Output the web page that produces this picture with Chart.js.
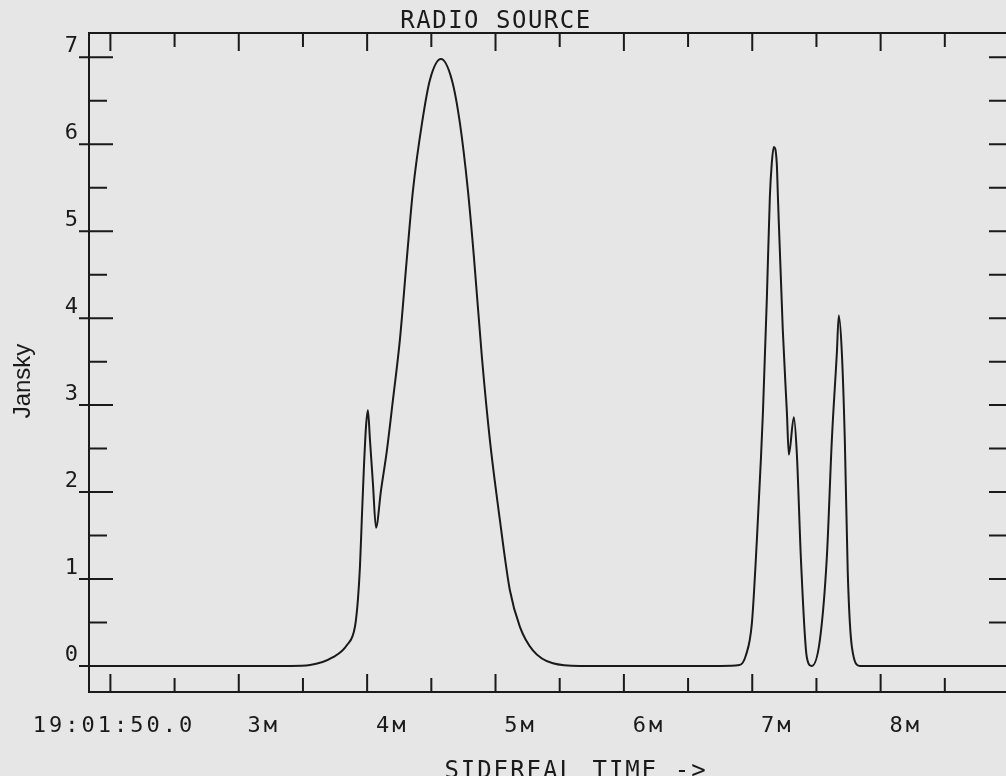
<!DOCTYPE html>
<html>
<head>
<meta charset="utf-8">
<script src="https://cdn.jsdelivr.net/npm/chart.js@4.4.1/dist/chart.umd.min.js"></script>
<style>
  html, body { margin: 0; padding: 0; background: #e6e6e6; overflow: hidden; }
  #wrap { width: 1006px; height: 776px; overflow: hidden; }
</style>
</head>
<body>
<div id="wrap"><canvas id="radioChart" width="1030" height="776"></canvas></div>
<script>
// sidereal time in minutes past 19h, flux in Jansky
const timeMin = [1.833, 3.40, 3.555, 3.734, 3.843, 3.905, 3.928, 3.944, 3.959, 3.975, 3.991, 4.006,
  4.022, 4.045, 4.069, 4.108, 4.154, 4.201, 4.255, 4.310, 4.357, 4.427, 4.489, 4.575,
  4.660, 4.723, 4.785, 4.832, 4.894, 4.956, 5.034, 5.112, 5.190, 5.291, 5.447, 5.657,
  6.750, 6.900, 6.950, 6.997, 7.036, 7.067, 7.083, 7.114, 7.137, 7.152, 7.168, 7.191,
  7.200, 7.238, 7.270, 7.285, 7.324, 7.347, 7.380, 7.425, 7.464, 7.527, 7.581, 7.620,
  7.659, 7.674, 7.698, 7.721, 7.744, 7.776, 7.838, 9.0];
const jansky = [0, 0, 0.01, 0.10, 0.24, 0.45, 0.76, 1.14, 1.71, 2.29, 2.75, 2.94,
  2.60, 2.10, 1.59, 2.02, 2.48, 3.06, 3.75, 4.70, 5.47, 6.24, 6.74, 6.98,
  6.74, 6.24, 5.47, 4.70, 3.55, 2.60, 1.68, 0.87, 0.45, 0.18, 0.03, 0,
  0, 0.01, 0.12, 0.49, 1.45, 2.37, 2.91, 4.24, 5.39, 5.78, 5.97, 5.78,
  5.39, 3.86, 2.91, 2.43, 2.86, 2.45, 1.20, 0.10, 0, 0.30, 1.25, 2.60,
  3.60, 4.03, 3.60, 2.60, 1.07, 0.22, 0, 0];

const xLabelTicks = [1.8333, 3, 4, 5, 6, 7, 8];
const xLabels = ['19:01:50.0', '3м', '4м', '5м', '6м', '7м', '8м'];
const xMarks = [2, 2.5, 3, 3.5, 4, 4.5, 5, 5.5, 6, 6.5, 7, 7.5, 8, 8.5];
const yTicks = [0, 1, 2, 3, 4, 5, 6, 7];
const yMarks = [0, 0.5, 1, 1.5, 2, 2.5, 3, 3.5, 4, 4.5, 5, 5.5, 6, 6.5, 7];

const ink = '#1a1a1a';
const mono = '"DejaVu Sans Mono", monospace';

const frame = {
    id: 'frame',
    beforeDraw(chart) { chart.ctx.letterSpacing = '3px'; },
    afterDraw(chart) {
        const { ctx, chartArea: a, scales: { x, y } } = chart;
        ctx.save();
        ctx.letterSpacing = '0px';
        ctx.strokeStyle = ink;
        ctx.lineWidth = 2;
        ctx.strokeRect(a.left, a.top, a.right - a.left, a.bottom - a.top);
        ctx.beginPath();
        xMarks.forEach(v => {
            const px = x.getPixelForValue(v);
            const len = Number.isInteger(v) ? 18 : 14;
            ctx.moveTo(px, a.bottom); ctx.lineTo(px, a.bottom - len);
            ctx.moveTo(px, a.top); ctx.lineTo(px, a.top + len);
        });
        yMarks.forEach(v => {
            const py = y.getPixelForValue(v);
            if (Number.isInteger(v)) { ctx.moveTo(a.left - 10, py); ctx.lineTo(a.left + 24, py); }
            else { ctx.moveTo(a.left, py); ctx.lineTo(a.left + 18, py); }
            ctx.moveTo(a.right, py); ctx.lineTo(a.right - 20, py);
        });
        ctx.stroke();

        ctx.fillStyle = ink;
        ctx.textAlign = 'center';
        ctx.textBaseline = 'alphabetic';
        ctx.font = '24px ' + mono;
        ctx.letterSpacing = '1.5px';
        ctx.fillText('RADIO SOURCE', a.left + 407, 28);
        ctx.letterSpacing = '2px';
        ctx.fillText('SIDEREAL TIME ->', a.left + 487, 778);

        ctx.letterSpacing = '0px';
        ctx.font = '24px "Liberation Sans", Arial, sans-serif';
        ctx.translate(30, 381);
        ctx.rotate(-Math.PI / 2);
        ctx.fillText('Jansky', 0, 0);
        ctx.restore();
    }
};

new Chart(document.getElementById('radioChart'), {
    type: 'line',
    data: {
        datasets: [{
            data: timeMin.map((t, i) => ({ x: t, y: jansky[i] })),
            borderColor: ink,
            borderWidth: 2,
            pointRadius: 0,
            cubicInterpolationMode: 'monotone',
            fill: false
        }]
    },
    options: {
        responsive: false,
        animation: false,
        layout: { padding: { top: 33, right: 21, left: 0, bottom: 0 } },
        plugins: { legend: { display: false }, tooltip: { enabled: false } },
        scales: {
            x: {
                type: 'linear', min: 1.8333, max: 9.0,
                grid: { display: false, drawTicks: false },
                border: { display: false },
                afterBuildTicks: s => { s.ticks = xLabelTicks.map(v => ({ value: v })); },
                afterFit: s => { s.height = 84; },
                ticks: {
                    autoSkip: false, maxRotation: 0, padding: 21, labelOffset: 25,
                    color: ink, font: { family: mono, size: 22 },
                    callback: v => xLabels[xLabelTicks.indexOf(v)]
                }
            },
            y: {
                min: -0.3, max: 7.28,
                grid: { display: false, drawTicks: false },
                border: { display: false },
                afterBuildTicks: s => { s.ticks = yTicks.map(v => ({ value: v })); },
                afterFit: s => { s.width = 89; },
                ticks: {
                    padding: 8, labelOffset: -11,
                    color: ink, font: { family: mono, size: 22 },
                    callback: v => String(v)
                }
            }
        }
    },
    plugins: [frame]
});
</script>
</body>
</html>
